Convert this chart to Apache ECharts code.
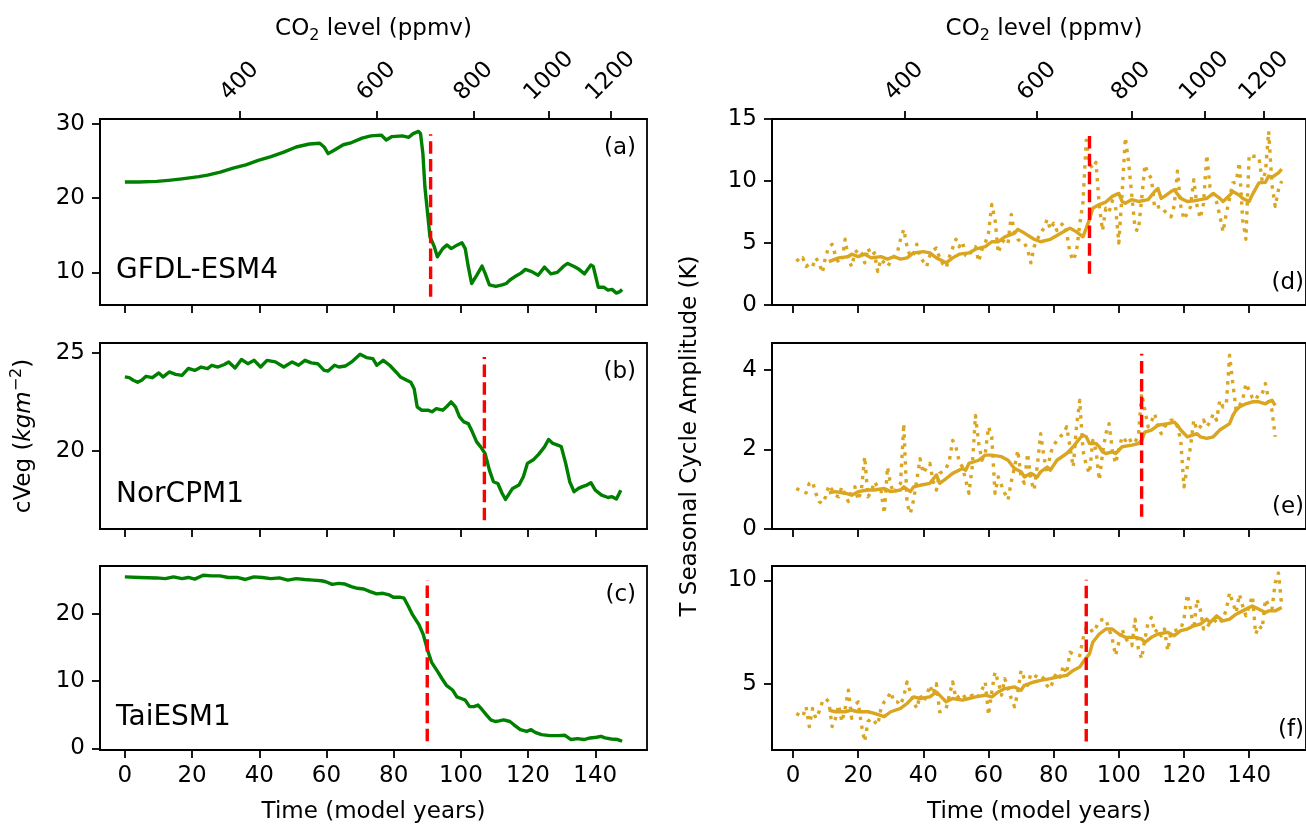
<!DOCTYPE html>
<html><head><meta charset="utf-8">
<script src="https://cdn.jsdelivr.net/npm/echarts/dist/echarts.min.js"></script>
<style>html,body{margin:0;padding:0;background:#fff}#c{width:1306px;height:825px}</style>
</head><body><div id="c"></div>
<script>
// ---------- tick labels ----------
const timeTicks = [0, 20, 40, 60, 80, 100, 120, 140];
const co2Ticks = [400, 600, 800, 1000, 1200];
const co2Start = 284.7;      // ppmv at year 0
const co2Growth = 0.01;      // 1 % per year
const modelNames = ['GFDL-ESM4', 'NorCPM1', 'TaiESM1'];
const panelLetters = ['(a)', '(b)', '(c)', '(d)', '(e)', '(f)'];

// ---------- cVeg (left column) ----------
const gfdlYears = [0,4,9.5,13,17,22,24.6,28.4,32.2,36,39.7,43.5,47.3,51,54.9,58,59.3,60.5,62.4,65,67.5,70.6,73.2,76.3,77.8,79.5,82.6,84.5,85.8,87.4,88,88.7,89.3,90.2,90.8,92.1,93,94.6,95.9,97.1,99,100.3,101.3,102.2,103.2,104.7,106.3,107.2,108.5,110.4,112.3,113.5,114.7,116,117.9,119.2,121.1,123,124.9,126.8,128.7,130.5,131.8,133.7,134.9,136.8,138.7,139.4,140.9,142.5,143.8,145,146.3,147.3,148];
const gfdlCveg = [22.17,22.17,22.26,22.4,22.6,22.9,23.1,23.5,24.05,24.5,25.1,25.6,26.2,26.9,27.3,27.4,26.9,26.0,26.5,27.2,27.5,28.1,28.4,28.5,27.85,28.3,28.4,28.2,28.7,29.0,28.7,26.0,21.5,17.5,14.8,13.45,12.1,13.2,13.7,13.2,13.7,14.0,13.2,10.8,8.5,9.6,10.85,9.9,8.3,8.1,8.3,8.5,9.0,9.4,9.9,10.4,10.1,9.6,10.7,9.8,10.0,10.8,11.2,10.8,10.5,9.8,11.0,10.8,8.0,8.0,7.6,7.7,7.2,7.4,7.7];

const norYears = [0,1.3,2.5,3.8,5,6.3,8.2,10.1,11.4,13.2,15.1,17,18.9,20.8,22.7,24.6,25.9,27.7,29.6,30.9,32.8,34.7,36.6,38.5,40.4,42.3,44.8,47.3,49.8,51.7,53.6,55.5,57.4,59.3,60.5,62.4,63.7,65.6,67.5,70,71.9,73.8,75,76.9,78.8,80.7,82,83.9,85.1,86.1,87,88.3,90.2,91.4,92.7,94.6,95.9,97.1,98.4,99.6,100.9,102.2,103.4,104.7,105.9,107.2,108.5,109.7,111,112.3,113.3,114.1,115.4,117.3,118.6,119.8,121.7,123.2,124.9,126.1,127.4,129,129.9,131.2,132.4,133.7,135,136.2,137.5,138.7,140,141.9,143.8,145,146.3,147.6];
const norCveg = [23.77,23.73,23.6,23.5,23.6,23.8,23.73,23.97,23.77,24.02,23.9,23.85,24.2,24.1,24.27,24.19,24.36,24.27,24.4,24.53,24.22,24.65,24.44,24.61,24.27,24.61,24.53,24.27,24.53,24.36,24.61,24.48,24.44,24.1,24.07,24.36,24.27,24.32,24.53,24.92,24.75,24.7,24.36,24.61,24.36,24.02,23.77,23.6,23.5,23.17,22.25,22.08,22.08,22.0,22.16,22.08,22.28,22.5,22.25,21.74,21.49,21.4,20.98,20.47,20.22,19.88,19.04,18.45,18.36,17.85,17.55,17.77,18.11,18.28,18.7,19.38,19.58,19.85,20.22,20.59,20.39,20.3,20.22,19.38,18.45,17.94,18.11,18.2,18.28,18.4,18.02,17.77,17.65,17.69,17.57,18.02];

const taiYears = [0,4.4,9.4,12,14.5,17,18.9,20.8,23.3,25.8,28.3,30.8,33.4,35.9,38.4,40.9,43.4,46,48.5,51,53.5,56,58.5,59.8,61.7,63.6,65.5,67.4,69.2,71.1,73,74.9,76.8,78.7,79.9,81.8,83.1,84.4,85.6,87.5,88.8,90,91.3,93.2,94.4,95.7,97.6,98.8,100.1,101.3,102.6,103.9,105.1,106.4,107.6,108.9,110.2,111.4,112.7,114.6,115.8,117.7,119.6,120.9,122.1,124,126.5,129,131,132.8,134.7,136.6,138.5,140.4,141.7,142.9,144.8,146.7,148];
const taiCveg = [25.46,25.37,25.3,25.2,25.46,25.2,25.37,25.12,25.7,25.6,25.6,25.37,25.37,25.07,25.46,25.37,25.2,25.3,24.98,25.2,25.07,24.98,24.88,24.73,24.34,24.49,24.39,24.0,23.76,23.66,23.27,22.93,23.02,22.78,22.44,22.44,22.29,21.07,19.85,18.39,16.93,14.73,12.78,11.32,10.34,9.37,8.63,7.66,7.41,7.17,6.2,6.2,6.44,5.71,4.98,4.24,4.0,4.1,4.24,4.0,3.51,2.78,2.54,2.78,2.39,2.05,1.9,1.9,1.95,1.32,1.46,1.32,1.56,1.66,1.8,1.56,1.41,1.32,1.07];

// ---------- T seasonal cycle amplitude (right column) ----------
// yearly values (years 1..N) and running mean
const gfdlAmpYearly = [3.7,3.5,3.8,3.1,3.3,3.1,3.8,3.4,2.6,3.9, 4.7,4.9,4.0,3.4,3.6,5.3,3.7,3.1,4.2,4.5, 4.2,3.4,4.6,4.0,4.2,2.7,3.7,3.4,3.1,3.5, 3.9,4.2,5.3,6.1,4.7,3.9,4.1,4.9,3.9,3.5, 3.1,4.0,4.4,4.6,3.8,3.3,3.0,3.9,4.6,5.3, 4.7,5.1,4.0,3.9,4.5,4.7,3.5,4.5,5.0,5.8, 8.1,6.9,4.2,5.0,5.3,5.0,7.3,5.8,5.3,5.1, 5.0,4.5,3.4,4.7,5.3,5.8,6.2,6.9,6.1,6.6, 6.0,6.4,6.6,5.8,4.2,3.6,4.3,6.5,8.3,13.3, 11.4,11.0,11.5,8.0,6.0,7.8,7.5,8.4,7.9,5.0, 9.0,13.5,11.5,8.8,6.1,6.0,8.5,11.3,10.6,10.2, 7.8,7.9,7.95,7.6,7.3,7.1,8.0,10.8,8.0,6.9, 7.4,7.9,10.1,8.0,7.0,8.2,12.1,9.5,8.9,8.3, 7.2,5.9,7.4,8.6,9.85,9.9,11.5,6.9,5.3,12.1, 12.0,12.0,11.9,10.0,10.7,14.0,9.7,7.95,9.3,10.0];
const gfdlAmpMeanYears = [11,14,17,18,20,22,24,27,29,31,33,35,37,40,42,44,47,49,51,54,56,59,61,63,65,68,69,71,74,76,79,81,83,85,87,89,91,92,94,96,98,100,101,102,104,106,109,111,112,113,114,116,117,119,121,123,125,127,129,131,132,134,135,137,138,140,141,143,145,146,147,149,150];
const gfdlAmpMean = [3.5,3.8,3.9,4.1,3.9,4.1,3.8,3.9,3.7,3.9,3.7,3.8,4.2,4.3,4.2,3.8,3.4,3.8,4.1,4.2,4.5,4.7,5.1,5.1,5.5,5.8,6.1,5.8,5.3,5.1,5.3,5.6,5.9,6.2,5.9,5.5,6.9,7.8,8.1,8.3,8.76,9.0,8.35,8.2,8.5,8.35,8.5,9.15,9.4,8.6,8.76,9.15,9.3,8.6,8.35,8.4,8.5,8.6,9.0,8.6,8.35,8.85,9.15,8.85,8.6,8.35,8.9,9.85,9.9,10.4,10.3,10.65,10.95];

const norAmpYearly = [1.02,0.98,0.94,0.91,1.15,1.19,0.9,0.69,0.64,0.81, 1.1,0.98,0.85,0.81,1.06,0.85,0.69,0.98,1.06,0.73, 1.0,1.82,0.81,0.94,1.19,1.05,0.98,0.39,1.56,1.1, 0.9,1.06,1.15,2.65,0.64,0.39,0.73,1.23,1.77,1.4, 1.55,1.65,1.2,0.98,1.4,1.45,1.52,1.73,2.23,2.07, 1.7,1.56,1.23,0.9,1.56,2.86,2.15,1.73,1.9,2.57, 2.32,0.9,1.31,1.1,0.9,0.73,1.2,1.56,1.98,1.31, 1.15,1.9,1.23,0.98,1.6,2.4,1.82,1.4,1.9,2.1, 2.23,2.32,2.4,2.57,2.07,1.56,2.57,3.24,1.98,1.6, 1.4,2.23,1.98,1.23,1.9,2.4,2.65,1.98,1.65,2.0, 2.32,2.23,2.32,2.15,2.2,2.32,3.41,2.99,2.57,2.7, 2.9,2.57,2.4,2.57,2.65,2.74,2.74,2.57,2.23,1.06, 1.56,2.07,2.74,2.49,2.57,2.74,2.57,2.7,2.9,2.74, 3.24,3.07,3.15,4.37,3.66,2.99,3.1,3.24,3.66,3.49, 3.3,3.24,3.41,3.41,3.66,3.24,2.99,2.32];
const norAmpMeanYears = [11,13,16,18,20,23,25,28,30,33,34,36,37,39,42,44,45,47,49,52,53,54,57,59,61,64,66,68,70,71,73,75,76,78,79,81,84,86,88,89,90,91,93,94,95,96,98,99,101,104,106,107,108,110,112,115,117,118,119,121,124,125,127,129,131,134,135,136,137,139,141,143,145,146,147,148];
const norAmpMean = [0.91,0.94,0.9,0.85,0.94,0.98,0.98,1.02,0.94,0.98,1.06,0.94,1.06,1.1,1.15,1.36,1.15,1.27,1.4,1.52,1.48,1.65,1.73,1.86,1.86,1.82,1.73,1.52,1.44,1.31,1.4,1.31,1.44,1.56,1.48,1.73,1.9,2.07,2.28,2.36,2.32,2.15,2.15,2.07,1.94,1.9,1.94,1.9,2.07,2.11,2.15,2.23,2.44,2.49,2.61,2.65,2.69,2.61,2.49,2.32,2.4,2.32,2.28,2.32,2.49,2.65,2.86,2.99,3.07,3.15,3.2,3.2,3.15,3.2,3.24,3.11];

const taiAmpYearly = [3.56,3.48,3.4,3.88,2.92,3.8,3.32,3.64,4.12,4.28, 4.12,2.92,3.3,3.96,3.16,3.8,4.68,3.32,3.96,4.12, 3.0,2.2,3.16,3.32,3.16,3.0,3.8,4.12,4.3,4.6, 4.12,4.12,3.96,4.4,5.08,4.6,4.12,3.8,4.44,4.12, 4.4,4.92,4.5,5.0,3.64,3.7,3.8,4.44,5.08,4.28, 4.4,4.52,4.28,4.35,4.44,4.28,4.44,4.7,5.08,3.48, 4.6,5.56,5.08,4.44,5.24,4.76,4.28,3.88,4.6,5.64, 5.24,4.92,5.48,5.4,5.32,5.4,5.24,4.9,4.76,5.24, 5.56,5.32,5.88,5.48,6.52,6.44,6.4,6.36,7.16,7.72, 7.72,7.48,7.72,8.04,8.1,8.12,7.64,7.16,6.36,7.0, 7.64,7.2,7.0,6.84,8.12,6.68,6.2,7.16,7.96,8.2, 7.48,7.64,7.32,7.64,6.6,7.48,7.56,7.6,7.64,8.12, 9.32,8.6,7.64,9.08,8.6,7.64,7.88,7.8,7.9,8.12, 7.96,8.12,8.6,9.4,8.92,8.44,9.32,8.76,8.28,8.76, 9.24,7.4,7.8,7.64,9.08,8.8,8.6,9.88,10.35,8.76];
const taiAmpMeanYears = [11,13,16,18,20,23,25,28,30,33,35,37,39,42,44,47,49,52,54,56,59,61,63,65,68,70,71,74,76,79,81,84,86,88,89,91,92,94,96,98,100,102,105,107,108,110,112,115,117,119,121,123,125,127,128,130,132,134,136,138,140,141,143,145,146,148,150];
const taiAmpMean = [3.72,3.64,3.64,3.72,3.64,3.64,3.56,3.4,3.64,3.8,4.04,4.36,4.28,4.36,4.6,4.12,4.28,4.2,4.28,4.36,4.44,4.36,4.6,4.76,4.84,4.68,4.92,5.08,5.16,5.24,5.32,5.4,5.64,5.8,6.04,6.44,7.0,7.4,7.64,7.64,7.4,7.24,7.24,7.16,7.0,7.24,7.4,7.48,7.32,7.56,7.64,7.8,7.88,8.12,7.96,8.28,8.04,8.12,8.36,8.52,8.68,8.76,8.6,8.44,8.52,8.52,8.68];

// tipping-point year and vertical extent of the red marker, per panel (a..f)
const tipYears = [91, 107, 90, 91, 107, 90];
const tipLow  = [6.7, 16.5, 1.07, 2.52, 0.31, 2.2];
const tipHigh = [28.6, 24.78, 25.0, 14.06, 4.41, 10.03];

// axis ranges and tick values
const yMins = [5.6, 16.05, -0.23, 0, 0, 1.79];
const yMaxs = [30.67, 25.49, 27.07, 15, 4.68, 10.69];
const yTicks = [[10, 20, 30], [20, 25], [0, 10, 20], [0, 5, 10, 15], [0, 2, 4], [5, 10]];
const xMinLeft = -7.4, xMaxLeft = 155.4, xMinRight = -6.45, xMaxRight = 157.45;

// ---------- build ----------
const FONT = 'DejaVu Sans';
const pairs = (xs, ys) => xs.map((x, i) => [x, ys[i]]);
const yearly = arr => arr.map((v, i) => [i + 1, v]);
const co2Positions = co2Ticks.map(c => Math.log(c / co2Start) / Math.log(1 + co2Growth));

const rowTops = [119, 343, 566];
const H = 186;
const grids = [];
for (let r = 0; r < 3; r++) grids.push({left: 100, top: rowTops[r], width: 547, height: H});
for (let r = 0; r < 3; r++) grids.push({left: 772, top: rowTops[r], width: 544, height: H});
grids.forEach(g => { g.show = true; g.borderColor = '#000'; g.borderWidth = 1.8; g.backgroundColor = 'transparent'; });

const lineBlack = {color: '#000', width: 1.8};
const tickFont = {fontSize: 23, color: '#000', fontFamily: FONT};
const xAxes = [];
for (let i = 0; i < 6; i++) {
  const left = i < 3;
  const showLab = (i === 2 || i === 5);
  xAxes.push({
    type: 'value', gridIndex: i, position: 'bottom',
    min: left ? xMinLeft : xMinRight, max: left ? xMaxLeft : xMaxRight,
    axisLine: {show: true, onZero: false, lineStyle: lineBlack},
    axisTick: {show: true, length: 8, lineStyle: lineBlack, customValues: timeTicks},
    axisLabel: Object.assign({show: showLab, customValues: timeTicks, margin: 15}, tickFont),
    splitLine: {show: false},
    name: showLab ? 'Time (model years)' : '', nameLocation: 'middle', nameGap: 51,
    nameTextStyle: {fontSize: 23, color: '#000', fontFamily: FONT}
  });
}
[0, 3].forEach(gi => {
  const left = gi < 3;
  xAxes.push({
    type: 'value', gridIndex: gi, position: 'top',
    min: left ? xMinLeft : xMinRight, max: left ? xMaxLeft : xMaxRight,
    axisLine: {show: true, onZero: false, lineStyle: lineBlack},
    axisTick: {show: true, length: 8, lineStyle: lineBlack, customValues: co2Positions},
    axisLabel: {show: false},
    splitLine: {show: false}
  });
});
const yAxes = [];
for (let i = 0; i < 6; i++) {
  yAxes.push({
    type: 'value', gridIndex: i, min: yMins[i], max: yMaxs[i],
    axisLine: {show: true, onZero: false, lineStyle: lineBlack},
    axisTick: {show: true, length: 8, lineStyle: lineBlack, customValues: yTicks[i]},
    axisLabel: Object.assign({customValues: yTicks[i], margin: 15}, tickFont),
    splitLine: {show: false}
  });
}

const GREEN = '#008000', GOLD = '#DAA520', RED = '#FF0000';
const LW = 3.4;
const series = [];
function addLine(gi, data, color, type) {
  series.push({type: 'line', xAxisIndex: gi, yAxisIndex: gi, data: data, showSymbol: false, symbol: 'none',
    silent: true, lineStyle: {color: color, width: LW, type: type || 'solid', cap: 'butt', join: 'round'}});
}
const leftSets = [[gfdlYears, gfdlCveg], [norYears, norCveg], [taiYears, taiCveg]];
leftSets.forEach((s, i) => addLine(i, pairs(s[0], s[1]), GREEN));
const rightSets = [[gfdlAmpYearly, gfdlAmpMeanYears, gfdlAmpMean], [norAmpYearly, norAmpMeanYears, norAmpMean], [taiAmpYearly, taiAmpMeanYears, taiAmpMean]];
rightSets.forEach((s, i) => {
  addLine(i + 3, yearly(s[0]), GOLD, [3.4, 5.6]);
  addLine(i + 3, pairs(s[1], s[2]), GOLD);
});
for (let i = 0; i < 6; i++) {
  addLine(i, [[tipYears[i], tipLow[i]], [tipYears[i], tipHigh[i]]], RED, [12.5, 5.4]);
}

const option = {animation: false, backgroundColor: '#fff', grid: grids, xAxis: xAxes, yAxis: yAxes, series: series};
const chart = echarts.init(document.getElementById('c'), null, {renderer: 'canvas'});
chart.setOption(option);

// ---------- annotations ----------
function txt(x, y, text, size, align, extra) {
  return Object.assign({type: 'text', x: x, y: y, silent: true, z: 100,
    style: {text: text, fontSize: size, fontFamily: FONT, fill: '#000',
      align: align, textAlign: align, verticalAlign: 'middle', textVerticalAlign: 'middle'}}, extra || {});
}
const gfx = [];
for (let r = 0; r < 3; r++) {
  gfx.push(txt(116, rowTops[r] + H - 34, modelNames[r], 28, 'left'));
  gfx.push(txt(636, rowTops[r] + 29, panelLetters[r], 23, 'right'));
  gfx.push(txt(1304, rowTops[r] + H - 22, panelLetters[r + 3], 23, 'right'));
}
// CO2 axis titles
const co2Title = (cx) => {
  const e = txt(cx, 29, '{n|CO}{s|2}{n| level (ppmv)}', 23, 'center');
  e.style.rich = {n: {fontSize: 23, fontFamily: FONT, fill: '#000', color: '#000'},
                  s: {fontSize: 16, fontFamily: FONT, fill: '#000', color: '#000', padding: [14, 0, 0, 0]}};
  return e;
};
gfx.push(co2Title(373.5));
gfx.push(co2Title(1044));
// y axis titles
const yl = txt(24, 436, '{n|cVeg (}{i|kgm}{p|−2}{n|)}', 23, 'center', {rotation: Math.PI / 2});
yl.style.rich = {n: {fontSize: 23, fontFamily: FONT, fill: '#000', color: '#000'},
                 i: {fontSize: 23, fontFamily: FONT, fontStyle: 'italic', fill: '#000', color: '#000'},
                 p: {fontSize: 16, fontFamily: FONT, fill: '#000', color: '#000', padding: [0, 0, 14, 0]}};
gfx.push(yl);
gfx.push(txt(690, 436, 'T Seasonal Cycle Amplitude (K)', 23, 'center', {rotation: Math.PI / 2}));

// rotated CO2 tick labels on the top axes
const mctx = document.createElement('canvas').getContext('2d');
mctx.font = '23px "DejaVu Sans"';
[6, 7].forEach(ai => {
  co2Ticks.forEach((c, k) => {
    const px = chart.convertToPixel({xAxisIndex: ai}, co2Positions[k]);
    const label = String(c);
    const w = mctx.measureText(label).width;
    const half = (w + 23) * Math.SQRT1_2 / 2;
    gfx.push(txt(px, rowTops[0] - 14 - half, label, 23, 'center', {rotation: Math.PI / 4}));
  });
});
chart.setOption({graphic: {elements: gfx}});
</script></body></html>
